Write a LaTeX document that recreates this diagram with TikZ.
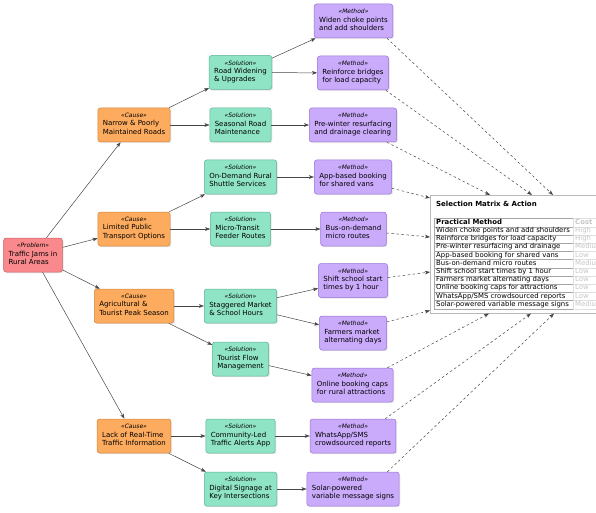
\documentclass[tikz,border=0pt]{standalone}
\usepackage{fontspec}
\setmainfont{DejaVu Sans}
\usetikzlibrary{arrows.meta,shadows}

\definecolor{probfill}{RGB}{249,137,140}
\definecolor{probline}{RGB}{196,92,98}
\definecolor{causefill}{RGB}{253,171,94}
\definecolor{causeline}{RGB}{206,132,62}
\definecolor{solfill}{RGB}{143,228,197}
\definecolor{solline}{RGB}{92,178,148}
\definecolor{methfill}{RGB}{202,170,250}
\definecolor{methline}{RGB}{150,116,210}
\definecolor{flowgray}{RGB}{70,70,70}

\newcommand{\stype}[1]{{\fontsize{6}{7}\selectfont\itshape «#1»}}
\newcommand{\twolines}[2]{\begin{tabular}[t]{@{}l@{}}#1\\#2\end{tabular}}
\newcommand{\lcell}[1]{\makebox[135pt][l]{\strut#1}}
\newcommand{\rcell}[1]{\makebox[46pt][l]{\strut#1}}

\begin{document}
\begin{tikzpicture}[x=1pt,y=-1pt,>={Stealth[length=5pt,width=3.6pt,inset=1.2pt]},
    box/.style={draw,rounded corners=2.5pt,line width=0.5pt,align=center,
      font=\fontsize{7}{8.2}\selectfont,inner xsep=5pt,inner ysep=2pt,minimum height=34pt,
      drop shadow={opacity=0.18,shadow xshift=1.2pt,shadow yshift=-1.2pt}},
    problem/.style={box,fill=probfill,draw=probline},
    cause/.style={box,fill=causefill,draw=causeline},
    solution/.style={box,fill=solfill,draw=solline},
    method/.style={box,fill=methfill,draw=methline},
    flow/.style={->,draw=flowgray,line width=0.5pt},
    pick/.style={->,draw=flowgray,line width=0.5pt,dash pattern=on 2.5pt off 2.5pt},
    cellA/.style={draw=gray!70,anchor=north west,inner xsep=2pt,inner ysep=0pt,
      font=\fontsize{6.9}{8.2}\selectfont},
    cellB/.style={cellA,draw=gray!25,text=gray!45}]
    \useasboundingbox (0,0) rectangle (596,513);
    \clip (0,0) rectangle (596,513);

    \node at (33,255) [problem] (prob) {\stype{Problem}\\\twolines{Traffic Jams in}{Rural Areas}};

    \node at (134,125) [cause] (c1) {\stype{Cause}\\\twolines{Narrow \& Poorly}{Maintained Roads}};
    \node at (134,229) [cause] (c2) {\stype{Cause}\\\twolines{Limited Public}{Transport Options}};
    \node at (134,306) [cause] (c3) {\stype{Cause}\\\twolines{Agricultural \&}{Tourist Peak Season}};
    \node at (134,436) [cause] (c4) {\stype{Cause}\\\twolines{Lack of Real-Time}{Traffic Information}};

    \node at (240.5,72.5) [solution] (s1) {\stype{Solution}\\\twolines{Road Widening}{\& Upgrades}};
    \node at (240.5,125) [solution] (s2) {\stype{Solution}\\\twolines{Seasonal Road}{Maintenance}};
    \node at (240.5,177) [solution] (s3) {\stype{Solution}\\\twolines{On-Demand Rural}{Shuttle Services}};
    \node at (240.5,229) [solution] (s4) {\stype{Solution}\\\twolines{Micro-Transit}{Feeder Routes}};
    \node at (240.5,306) [solution] (s5) {\stype{Solution}\\\twolines{Staggered Market}{\& School Hours}};
    \node at (240.5,359) [solution] (s6) {\stype{Solution}\\\twolines{Tourist Flow}{Management}};
    \node at (240.5,436) [solution] (s7) {\stype{Solution}\\\twolines{Community-Led}{Traffic Alerts App}};
    \node at (240.5,489) [solution] (s8) {\stype{Solution}\\\twolines{Digital Signage at}{Key Intersections}};

    \node at (353.5,21) [method] (m1) {\stype{Method}\\\twolines{Widen choke points}{and add shoulders}};
    \node at (353,73) [method] (m2) {\stype{Method}\\\twolines{Reinforce bridges}{for load capacity}};
    \node at (353,125) [method] (m3) {\stype{Method}\\\twolines{Pre-winter resurfacing}{and drainage clearing}};
    \node at (353,177) [method] (m4) {\stype{Method}\\\twolines{App-based booking}{for shared vans}};
    \node at (353.5,229) [method] (m5) {\stype{Method}\\\twolines{Bus-on-demand}{micro routes}};
    \node at (353,280.5) [method] (m6) {\stype{Method}\\\twolines{Shift school start}{times by 1 hour}};
    \node at (353,333) [method] (m7) {\stype{Method}\\\twolines{Farmers market}{alternating days}};
    \node at (352.5,385) [method] (m8) {\stype{Method}\\\twolines{Online booking caps}{for rural attractions}};
    \node at (353,436) [method] (m9) {\stype{Method}\\\twolines{WhatsApp/SMS}{crowdsourced reports}};
    \node at (353,489) [method] (m10) {\stype{Method}\\\twolines{Solar-powered}{variable message signs}};

    \node at (430,195) [anchor=north west,draw=gray!55,fill=white,line width=0.5pt,minimum width=230pt,
      minimum height=118pt,drop shadow={opacity=0.15,shadow xshift=1.2pt,shadow yshift=-1.2pt}] (sel) {};
    \node at (436,204) [anchor=west,inner sep=0pt,font=\bfseries\fontsize{7}{8.2}\selectfont] (ttl) {Selection Matrix \& Action};

    \node at (434,218.3) [cellA] (r0) {\lcell{\bfseries Practical Method}};
    \node at (573,218.3) [cellB] (k0) {\rcell{\bfseries Cost}};
    \node at (434,226.5) [cellA] (r1) {\lcell{Widen choke points and add shoulders}};
    \node at (573,226.5) [cellB] (k1) {\rcell{High}};
    \node at (434,234.7) [cellA] (r2) {\lcell{Reinforce bridges for load capacity}};
    \node at (573,234.7) [cellB] (k2) {\rcell{High}};
    \node at (434,242.9) [cellA] (r3) {\lcell{Pre-winter resurfacing and drainage}};
    \node at (573,242.9) [cellB] (k3) {\rcell{Medium}};
    \node at (434,251.1) [cellA] (r4) {\lcell{App-based booking for shared vans}};
    \node at (573,251.1) [cellB] (k4) {\rcell{Low}};
    \node at (434,259.3) [cellA] (r5) {\lcell{Bus-on-demand micro routes}};
    \node at (573,259.3) [cellB] (k5) {\rcell{Medium}};
    \node at (434,267.5) [cellA] (r6) {\lcell{Shift school start times by 1 hour}};
    \node at (573,267.5) [cellB] (k6) {\rcell{Low}};
    \node at (434,275.7) [cellA] (r7) {\lcell{Farmers market alternating days}};
    \node at (573,275.7) [cellB] (k7) {\rcell{Low}};
    \node at (434,283.9) [cellA] (r8) {\lcell{Online booking caps for attractions}};
    \node at (573,283.9) [cellB] (k8) {\rcell{Low}};
    \node at (434,292.1) [cellA] (r9) {\lcell{WhatsApp/SMS crowdsourced reports}};
    \node at (573,292.1) [cellB] (k9) {\rcell{Low}};
    \node at (434,300.3) [cellA] (r10) {\lcell{Solar-powered variable message signs}};
    \node at (573,300.3) [cellB] (k10) {\rcell{Medium}};

    \draw [flow] (prob) -- (c1);
    \draw [flow] (prob) -- (c2);
    \draw [flow] (prob) -- (c3);
    \draw [flow] (prob) -- (c4);
    \draw [flow] (c1) -- (s1);
    \draw [flow] (c1) -- (s2);
    \draw [flow] (c2) -- (s3);
    \draw [flow] (c2) -- (s4);
    \draw [flow] (c3) -- (s5);
    \draw [flow] (c3) -- (s6);
    \draw [flow] (c4) -- (s7);
    \draw [flow] (c4) -- (s8);
    \draw [flow] (s1) -- (m1);
    \draw [flow] (s1) -- (m2);
    \draw [flow] (s2) -- (m3);
    \draw [flow] (s3) -- (m4);
    \draw [flow] (s4) -- (m5);
    \draw [flow] (s5) -- (m6);
    \draw [flow] (s5) -- (m7);
    \draw [flow] (s6) -- (m8);
    \draw [flow] (s7) -- (m9);
    \draw [flow] (s8) -- (m10);

    \draw [pick] ([xshift=-6pt]m1.south east) -- ([xshift=123pt]sel.north west);
    \draw [pick] ([xshift=-3pt]m2.south east) -- ([xshift=102pt]sel.north west);
    \draw [pick] ([xshift=-10pt]m3.south east) -- ([xshift=60pt]sel.north west);
    \draw [pick] ([yshift=6pt]m4.south east) -- ([yshift=-3pt]sel.north west);
    \draw [pick] ([yshift=-4pt]m5.east) -- ([yshift=-42pt]sel.north west);
    \draw [pick] ([yshift=3pt]m6.east) -- ([yshift=-77pt]sel.north west);
    \draw [pick] ([yshift=11pt]m7.east) -- ([yshift=3pt]sel.south west);
    \draw [pick] ([xshift=-6pt]m8.north east) -- ([xshift=59pt]sel.south west);
    \draw [pick] ([xshift=-11pt]m9.north east) -- ([xshift=101pt]sel.south west);
    \draw [pick] ([xshift=-12pt]m10.north east) -- ([xshift=124pt]sel.south west);
\end{tikzpicture}
\end{document}
